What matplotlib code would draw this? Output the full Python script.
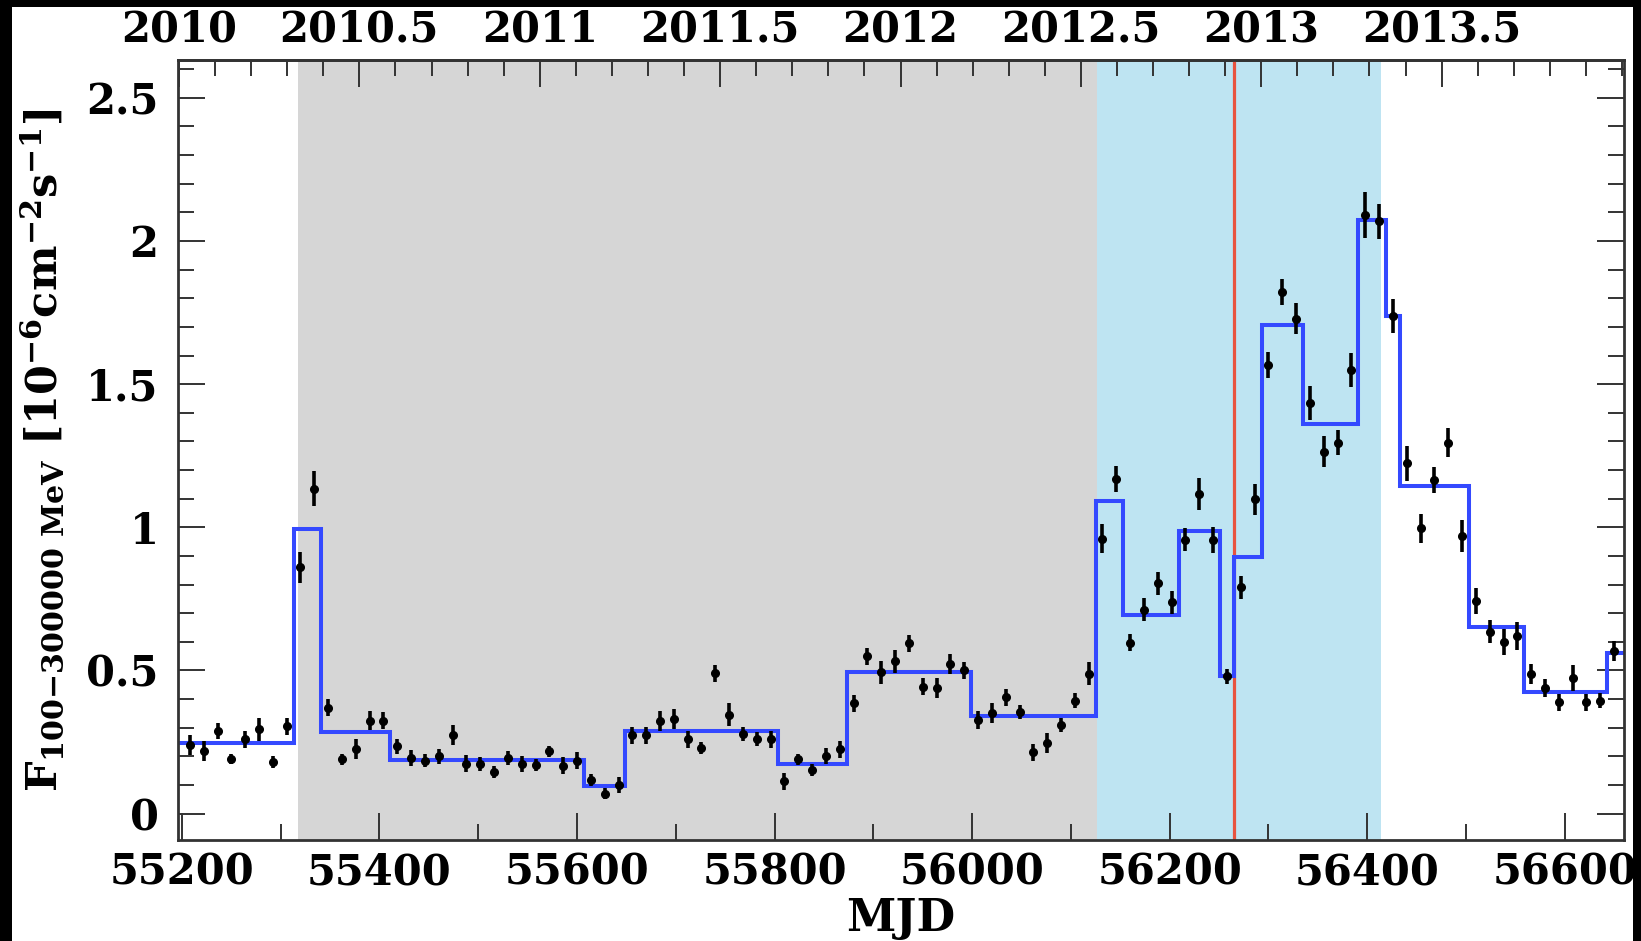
import numpy as np
import matplotlib
matplotlib.use("Agg")
import matplotlib.pyplot as plt
from matplotlib.ticker import MultipleLocator, FixedLocator, FuncFormatter
from matplotlib.patches import Rectangle

# ---------------- data ----------------
mjd = [55208, 55222, 55236, 55250, 55264, 55278, 55292, 55306, 55320, 55334,
       55348, 55362, 55376, 55390, 55404, 55418, 55432, 55446, 55460, 55474,
       55488, 55502, 55516, 55530, 55544, 55558, 55572, 55586, 55600, 55614,
       55628, 55642, 55656, 55670, 55684, 55698, 55712, 55726, 55740, 55754,
       55768, 55782, 55796, 55810, 55824, 55838, 55852, 55866, 55880, 55894,
       55908, 55922, 55936, 55950, 55964, 55978, 55992, 56006, 56020, 56034,
       56048, 56062, 56076, 56090, 56104, 56118, 56132, 56146, 56160, 56174,
       56188, 56202, 56216, 56230, 56244, 56258, 56272, 56286, 56300, 56314,
       56328, 56342, 56356, 56370, 56384, 56398, 56412, 56426, 56440, 56454,
       56468, 56482, 56496, 56510, 56524, 56538, 56552, 56566, 56580, 56594,
       56608, 56622, 56636, 56650]

flux = [0.24, 0.22, 0.29, 0.19, 0.26, 0.295, 0.18, 0.305, 0.86, 1.135,
        0.37, 0.19, 0.225, 0.325, 0.325, 0.235, 0.195, 0.185, 0.20, 0.275,
        0.175, 0.173, 0.145, 0.195, 0.175, 0.17, 0.218, 0.168, 0.185, 0.118,
        0.07, 0.10, 0.273, 0.273, 0.325, 0.33, 0.26, 0.229, 0.49, 0.345,
        0.279, 0.26, 0.26, 0.113, 0.19, 0.152, 0.202, 0.225, 0.386, 0.55,
        0.493, 0.532, 0.595, 0.443, 0.44, 0.522, 0.50, 0.327, 0.35, 0.407,
        0.354, 0.214, 0.246, 0.309, 0.395, 0.488, 0.96, 1.17, 0.597, 0.712,
        0.805, 0.738, 0.957, 1.116, 0.957, 0.479, 0.791, 1.098, 1.568, 1.823,
        1.729, 1.434, 1.264, 1.296, 1.55, 2.091, 2.068, 1.738, 1.223, 0.996,
        1.166, 1.296, 0.97, 0.743, 0.636, 0.60, 0.621, 0.488, 0.439, 0.389,
        0.473, 0.389, 0.395, 0.568]

flux_err = [0.035, 0.035, 0.028, 0.018, 0.030, 0.040, 0.020, 0.030, 0.055, 0.060,
            0.030, 0.020, 0.035, 0.032, 0.030, 0.025, 0.028, 0.022, 0.025, 0.035,
            0.030, 0.025, 0.020, 0.025, 0.028, 0.020, 0.020, 0.030, 0.030, 0.020,
            0.018, 0.028, 0.030, 0.030, 0.035, 0.035, 0.030, 0.020, 0.030, 0.040,
            0.025, 0.025, 0.030, 0.030, 0.020, 0.020, 0.028, 0.030, 0.030, 0.030,
            0.040, 0.040, 0.030, 0.030, 0.035, 0.035, 0.030, 0.030, 0.035, 0.030,
            0.025, 0.030, 0.035, 0.025, 0.025, 0.040, 0.050, 0.045, 0.030, 0.040,
            0.040, 0.040, 0.040, 0.055, 0.045, 0.025, 0.040, 0.055, 0.045, 0.045,
            0.055, 0.060, 0.055, 0.045, 0.060, 0.080, 0.060, 0.060, 0.060, 0.050,
            0.045, 0.050, 0.055, 0.045, 0.040, 0.045, 0.050, 0.035, 0.030, 0.030,
            0.045, 0.030, 0.025, 0.035]

# Bayesian-block light curve
block_edges = [55197, 55313, 55341, 55411, 55607, 55649, 55803, 55873, 55999,
               56125, 56153, 56209, 56251, 56265, 56293, 56335, 56391, 56419,
               56433, 56503, 56559, 56643, 56660]
block_flux = [0.246, 0.993, 0.286, 0.189, 0.095, 0.2875, 0.175, 0.496, 0.341,
              1.091, 0.693, 0.9875, 0.482, 0.895, 1.705, 1.3625, 2.073, 1.7375,
              1.145, 0.652, 0.425, 0.5625]

gray_period = (55317, 56126)
blue_period = (56126, 56413.5)
red_epoch = 56265

year_ticks = [2010, 2010.5, 2011, 2011.5, 2012, 2012.5, 2013, 2013.5]

# ---------------- style ----------------
plt.rcParams['font.family'] = 'DejaVu Serif'
plt.rcParams['font.weight'] = 'bold'
plt.rcParams['axes.labelweight'] = 'bold'
plt.rcParams['mathtext.fontset'] = 'dejavuserif'
plt.rcParams['mathtext.default'] = 'bf'

W, H = 1641, 941
fig = plt.figure(figsize=(W / 100, H / 100), dpi=100, facecolor='black')
fig.add_artist(Rectangle((12 / W, 0), (1633 - 12) / W, 934 / H,
                         transform=fig.transFigure, facecolor='white',
                         edgecolor='none', zorder=-10))

ax = fig.add_axes([178 / W, 1 - 840 / H, (1624 - 178) / W, (840 - 60) / H])

ax.axvspan(*gray_period, color='#d6d6d6', lw=0, zorder=0)
ax.axvspan(*blue_period, color='#bee4f2', lw=0, zorder=0)
ax.axvline(red_epoch, color='#e8533f', lw=2.3, zorder=1)
ax.stairs(block_flux, block_edges, baseline=None, color='#3449ff', lw=2.9, zorder=2)
ax.errorbar(mjd, flux, yerr=flux_err, xerr=2.5, fmt='o', color='black', ms=5.5,
            elinewidth=2.6, capsize=0, zorder=3)

ax.set_xlim(55196, 56660)
ax.set_ylim(-0.092, 2.632)

ax.xaxis.set_major_locator(MultipleLocator(200))
ax.xaxis.set_minor_locator(MultipleLocator(100))
ax.yaxis.set_major_locator(MultipleLocator(0.5))
ax.yaxis.set_minor_locator(MultipleLocator(0.1))
ax.yaxis.set_major_formatter(FuncFormatter(lambda v, p: f"{v:g}"))

tick_col = '#333333'
ax.tick_params(which='both', direction='in', top=False, right=True,
               labelsize=30, width=1.4, color=tick_col)
ax.tick_params(which='major', length=19.5)
ax.tick_params(which='minor', length=11.5)
ax.tick_params(axis='y', pad=14)
ax.tick_params(axis='x', pad=8)
for s in ax.spines.values():
    s.set_linewidth(2.0)
    s.set_color(tick_col)

sec = ax.secondary_xaxis('top',
                         functions=(lambda m: 2010 + (np.asarray(m) - 55197) / 365.25,
                                    lambda y: 55197 + (np.asarray(y) - 2010) * 365.25))
sec.xaxis.set_major_locator(FixedLocator(year_ticks))
sec.xaxis.set_minor_locator(MultipleLocator(0.1))
sec.xaxis.set_major_formatter(FuncFormatter(lambda v, p: f"{v:g}"))
sec.tick_params(which='both', direction='in', labelsize=30, width=1.4,
                color=tick_col, pad=7)
sec.tick_params(which='major', length=19.5)
sec.tick_params(which='minor', length=11.5)
sec.spines['top'].set_linewidth(2.0)
sec.spines['top'].set_color(tick_col)

ax.set_xlabel('MJD', fontsize=32, fontweight='bold', labelpad=3)
ax.set_ylabel(r'F$_{100{-}300000\ MeV}$ [10$^{-6}$cm$^{-2}$s$^{-1}$]',
              fontsize=31, fontweight='bold', labelpad=14)

fig.savefig('out.png', dpi=100, facecolor=fig.get_facecolor())
